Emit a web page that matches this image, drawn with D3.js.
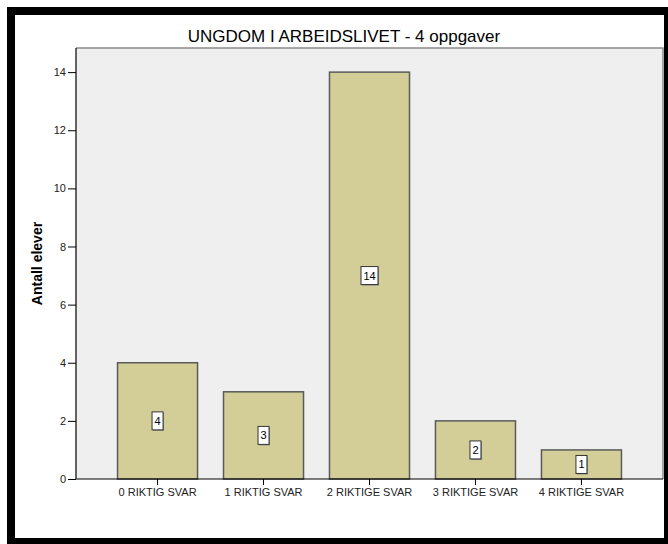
<!DOCTYPE html>
<html>
<head>
<meta charset="utf-8">
<script src="https://cdn.jsdelivr.net/npm/d3@7"></script>
<style>
  html, body { margin: 0; padding: 0; background: #fff; }
  svg { display: block; }
  text { font-family: Arial, "Liberation Sans", sans-serif; }
</style>
</head>
<body>
<svg id="chart" width="668" height="544"></svg>
<script>
// Number of pupils per score on the 4-task test
const categories = ["0 RIKTIG SVAR", "1 RIKTIG SVAR", "2 RIKTIGE SVAR", "3 RIKTIGE SVAR", "4 RIKTIGE SVAR"];
const counts = [4, 3, 14, 2, 1];
const yTicks = [0, 2, 4, 6, 8, 10, 12, 14];
const yMax = 14.83;
const titleText = "UNGDOM I ARBEIDSLIVET - 4 oppgaver";
const yTitle = "Antall elever";

const svg = d3.select("#chart");

// outer frame
svg.append("rect")
  .attr("x", 11).attr("y", 11)
  .attr("width", 657).attr("height", 531)
  .attr("fill", "#fff")
  .attr("stroke", "#000").attr("stroke-width", 8);

const plot = { left: 76, right: 663, top: 48, bottom: 479 };

const x = d3.scaleBand()
  .domain(categories)
  .range([plot.left, plot.right])
  .paddingInner(0.245)
  .paddingOuter(0.392);

const y = d3.scaleLinear()
  .domain([0, yMax])
  .range([plot.bottom, plot.top]);

// plot background
svg.append("rect")
  .attr("x", plot.left).attr("y", plot.top)
  .attr("width", plot.right - plot.left)
  .attr("height", plot.bottom - plot.top)
  .attr("fill", "#efefef");

// top and right frame of the plot area
svg.append("path")
  .attr("d", `M${plot.left},${plot.top}H${plot.right}V${plot.bottom}`)
  .attr("fill", "none")
  .attr("stroke", "#8a8a8a")
  .attr("stroke-width", 1.5);

// title
svg.append("text")
  .attr("x", 344).attr("y", 42)
  .attr("text-anchor", "middle")
  .attr("font-size", 17)
  .attr("fill", "#000")
  .text(titleText);

// bars
svg.append("g").selectAll("rect")
  .data(counts)
  .join("rect")
  .attr("x", (d, i) => x(categories[i]))
  .attr("y", d => y(d))
  .attr("width", x.bandwidth())
  .attr("height", d => y(0) - y(d))
  .attr("fill", "#d3ce97")
  .attr("stroke", "#5a5a5a")
  .attr("stroke-width", 1.5);

// value labels in boxes at mid-height of each bar
const labels = svg.append("g").selectAll("g")
  .data(counts)
  .join("g")
  .attr("transform", (d, i) => `translate(${x(categories[i]) + x.bandwidth() / 2},${y(d / 2)})`);

labels.each(function (d) {
  const g = d3.select(this);
  const w = String(d).length > 1 ? 17 : 11;
  const h = 18;
  g.append("rect")
    .attr("x", -w / 2 + 1).attr("y", -h / 2 + 1)
    .attr("width", w).attr("height", h)
    .attr("fill", "#8a8a8a");
  g.append("rect")
    .attr("x", -w / 2).attr("y", -h / 2)
    .attr("width", w).attr("height", h)
    .attr("fill", "#fff")
    .attr("stroke", "#333")
    .attr("stroke-width", 1);
  g.append("text")
    .attr("text-anchor", "middle")
    .attr("dy", "0.36em")
    .attr("font-size", 11)
    .attr("fill", "#000")
    .text(d);
});

// y axis
const yAxis = svg.append("g")
  .attr("transform", `translate(${plot.left},0)`)
  .call(d3.axisLeft(y).tickValues(yTicks).tickSize(8).tickPadding(2).tickSizeOuter(0));
yAxis.select(".domain").remove();
yAxis.selectAll(".tick line").attr("stroke", "#000");
yAxis.selectAll(".tick text")
  .attr("font-size", 11)
  .attr("font-family", "Arial, 'Liberation Sans', sans-serif")
  .attr("fill", "#222");

svg.append("line")
  .attr("x1", plot.left).attr("x2", plot.left)
  .attr("y1", plot.top).attr("y2", plot.bottom)
  .attr("stroke", "#000").attr("stroke-width", 1.2);

// x axis
const xAxis = svg.append("g")
  .attr("transform", `translate(0,${plot.bottom})`)
  .call(d3.axisBottom(x).tickSize(6).tickPadding(3).tickSizeOuter(0));
xAxis.select(".domain").remove();
xAxis.selectAll(".tick line").attr("stroke", "#000");
xAxis.selectAll(".tick text")
  .attr("font-size", 11)
  .attr("font-family", "Arial, 'Liberation Sans', sans-serif")
  .attr("fill", "#222");

svg.append("line")
  .attr("x1", plot.left).attr("x2", plot.right)
  .attr("y1", plot.bottom).attr("y2", plot.bottom)
  .attr("stroke", "#000").attr("stroke-width", 1.2);

// y axis title
svg.append("text")
  .attr("transform", `translate(42,${(plot.top + plot.bottom) / 2}) rotate(-90)`)
  .attr("text-anchor", "middle")
  .attr("font-size", 14)
  .attr("font-weight", "bold")
  .attr("fill", "#000")
  .text(yTitle);
</script>
</body>
</html>
